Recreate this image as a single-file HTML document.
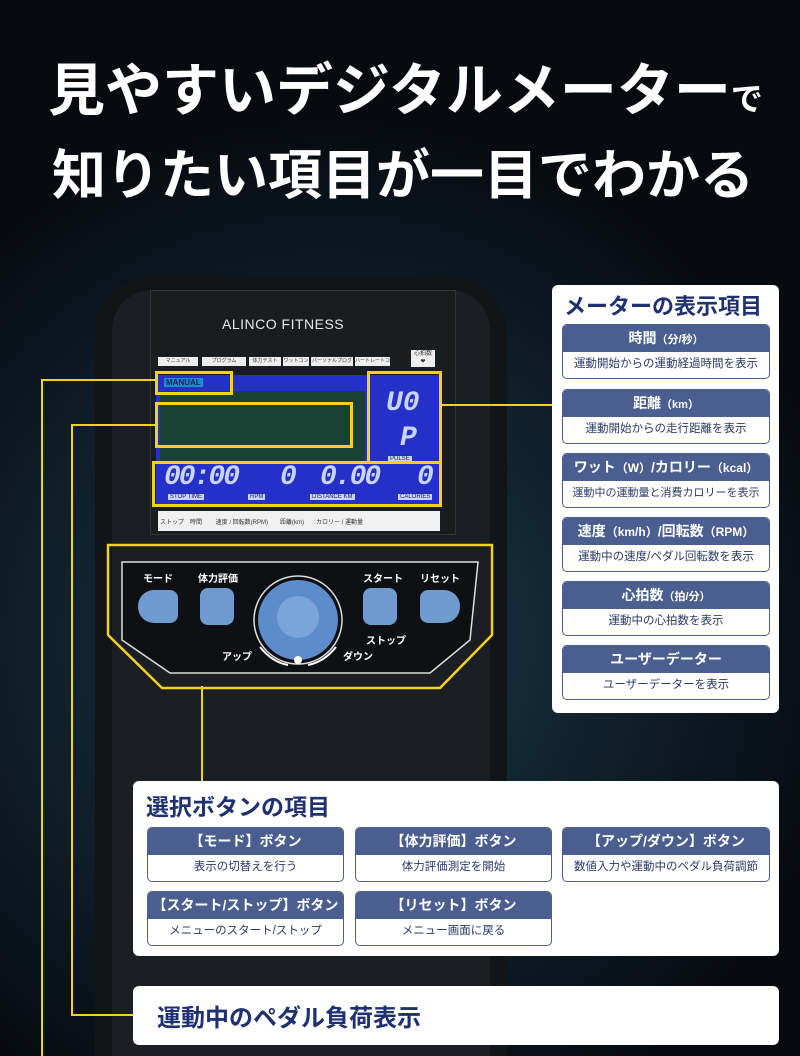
<!DOCTYPE html>
<html><head><meta charset="utf-8"><style>
*{margin:0;padding:0;box-sizing:border-box}
html,body{width:800px;height:1056px;overflow:hidden}
body{position:relative;font-family:"Liberation Sans","Noto Sans CJK JP",sans-serif;
background:radial-gradient(ellipse 520px 520px at 330px 640px,#1d3a4c 0%,#10202c 55%,#070b10 100%);}
.abs{position:absolute}
.t{color:#fff;font-weight:bold;white-space:nowrap}
.panel{position:absolute;background:#fff;border-radius:6px}
.card{position:absolute;border:1px solid #4a5f8f;border-radius:5px;overflow:hidden;background:#fff}
.card .h{background:#4a5f8f;color:#fff;font-weight:bold;text-align:center;height:27px;line-height:27px;font-size:14px}
.card .b{color:#2b3a66;text-align:center;height:26px;line-height:25px;font-size:11.5px}
.y{position:absolute;border:3px solid #f2d21b}
.yl{position:absolute;background:#f2d21b}
.lcd7{position:absolute;color:#c9d4ff;font-family:"Liberation Mono",monospace;font-weight:bold;font-style:italic;line-height:1}
.tab{position:absolute;background:#eee;height:9px;font-size:5px;color:#333;text-align:center;line-height:9px;overflow:hidden}
.lbl{position:absolute;color:#fff;font-size:10px;font-weight:bold}
.btn{position:absolute;background:#6f9bd0;border-radius:8px}
</style></head><body>
<div class="abs t" style="left:48px;top:56px;font-size:57px;line-height:70px">見やすいデジタルメーター<span style="font-size:32px">で</span></div>
<div class="abs t" style="left:52px;top:140px;font-size:54px;line-height:72px;width:700px;display:flex;justify-content:space-between"><span>知</span><span>り</span><span>た</span><span>い</span><span>項</span><span>目</span><span>が</span><span>一</span><span>目</span><span>で</span><span>わ</span><span>か</span><span>る</span></div>

<!-- console body -->
<div class="abs" style="left:95px;top:276px;width:412px;height:780px;background:#121518;border-radius:60px 60px 0 0;"></div>
<div class="abs" style="left:112px;top:290px;width:378px;height:766px;background:#1b1e22;border-radius:40px 40px 0 0;"></div>
<!-- screen panel -->
<div class="abs" style="left:150px;top:290px;width:306px;height:245px;background:#1a1d20;border:1px solid #333"></div>
<div class="abs" style="left:222px;top:316px;color:#e8e8e8;font-size:14px;letter-spacing:0.5px">ALINCO FITNESS</div>
<div class="tab" style="left:158px;top:357px;width:40px">マニュアル</div>
<div class="tab" style="left:202px;top:357px;width:44px">プログラム</div>
<div class="tab" style="left:249px;top:357px;width:32px">体力テスト</div>
<div class="tab" style="left:283px;top:357px;width:26px">ワットコントロール</div>
<div class="tab" style="left:311px;top:357px;width:42px">パーソナルプログラム</div>
<div class="tab" style="left:355px;top:357px;width:35px">ハートレートコントロール</div>
<div class="abs" style="left:411px;top:350px;width:24px;height:17px;background:#eee;font-size:6px;text-align:center;color:#333;line-height:8px">心拍数<br>❤</div>
<!-- LCD -->
<div class="abs" style="left:156px;top:375px;width:285px;height:130px;background:#2430c8"></div>
<div class="abs" style="left:160px;top:391px;width:205px;height:70px;background:#1a4034"></div>
<div class="abs" style="left:164px;top:378px;background:#1a8fd0;color:#0a1a60;font-size:8px;font-weight:bold;padding:0 2px">MANUAL</div>
<div class="lcd7" style="left:386px;top:390px;font-size:28px">U0</div>
<div class="lcd7" style="left:400px;top:425px;font-size:28px">P</div>
<div class="abs" style="left:388px;top:456px;font-size:6px;background:#c9d4ff;color:#223;padding:0 2px">PULSE</div>
<div class="lcd7" style="left:164px;top:464px;font-size:28px;letter-spacing:-2px">00:00</div>
<div class="lcd7" style="left:280px;top:464px;font-size:28px">0</div>
<div class="lcd7" style="left:320px;top:464px;font-size:28px;letter-spacing:-2px">0.00</div>
<div class="lcd7" style="left:417px;top:464px;font-size:28px">0</div>
<div class="abs" style="left:168px;top:494px;font-size:6px;color:#223;background:#c9d4ff;padding:0 2px">STOP TIME</div>
<div class="abs" style="left:248px;top:494px;font-size:6px;color:#223;background:#c9d4ff;padding:0 2px">RPM</div>
<div class="abs" style="left:310px;top:494px;font-size:6px;color:#223;background:#c9d4ff;padding:0 2px">DISTANCE KM</div>
<div class="abs" style="left:398px;top:494px;font-size:6px;color:#223;background:#c9d4ff;padding:0 2px">CALORIES</div>
<div class="abs" style="left:158px;top:511px;width:282px;height:20px;background:#f0f0f0"></div>
<div class="abs" style="left:160px;top:517px;font-size:6px;color:#333;white-space:nowrap">ストップ　時間 　　速度 / 回転数(RPM)　　距離(km)　　カロリー / 運動量</div>

<!-- yellow highlights -->
<div class="y" style="left:155px;top:371px;width:78px;height:24px"></div>
<div class="y" style="left:155px;top:402px;width:198px;height:46px"></div>
<div class="y" style="left:367px;top:371px;width:75px;height:93px;border-bottom:none"></div>
<div class="y" style="left:152px;top:461px;width:290px;height:46px"></div>
<div class="yl" style="left:442px;top:404px;width:110px;height:2px"></div>
<div class="yl" style="left:41px;top:379px;width:114px;height:2px"></div>
<div class="yl" style="left:41px;top:379px;width:2px;height:677px"></div>
<div class="yl" style="left:71px;top:424px;width:84px;height:2px"></div>
<div class="yl" style="left:71px;top:424px;width:2px;height:592px"></div>
<div class="yl" style="left:71px;top:1014px;width:62px;height:2px"></div>
<div class="yl" style="left:201px;top:686px;width:2px;height:96px"></div>

<!-- button panel -->
<svg class="abs" style="left:100px;top:540px" width="400" height="155">
<polygon points="8,5 392,5 392,95 340,148 62,148 8,95" fill="none" stroke="#f2d21b" stroke-width="2.5"/>
<polygon points="22,22 378,22 370,100 330,133 70,133 22,100" fill="#0e1013" stroke="#ddd" stroke-width="1.5"/>
<circle cx="198" cy="80" r="44" fill="#0e1013" stroke="#ddd" stroke-width="1.5"/>
<circle cx="198" cy="80" r="40" fill="#5d8ccb"/>
<circle cx="198" cy="77" r="21" fill="#7aa5d9"/>
<circle cx="198" cy="120" r="4" fill="#fff"/>
<path d="M160 107 Q172 122 188 125" stroke="#fff" stroke-width="2" fill="none"/>
<path d="M208 125 Q224 122 236 107" stroke="#fff" stroke-width="2" fill="none"/>
</svg>
<div class="btn" style="left:138px;top:590px;width:40px;height:33px;border-radius:16px 8px 8px 16px"></div>
<div class="btn" style="left:200px;top:588px;width:34px;height:37px"></div>
<div class="btn" style="left:363px;top:588px;width:34px;height:37px"></div>
<div class="btn" style="left:420px;top:590px;width:40px;height:33px;border-radius:8px 16px 16px 8px"></div>
<div class="lbl" style="left:143px;top:570px">モード</div>
<div class="lbl" style="left:198px;top:570px">体力評価</div>
<div class="lbl" style="left:363px;top:570px">スタート</div>
<div class="lbl" style="left:420px;top:570px">リセット</div>
<div class="lbl" style="left:366px;top:632px">ストップ</div>
<div class="lbl" style="left:222px;top:648px">アップ</div>
<div class="lbl" style="left:343px;top:648px">ダウン</div>

<!-- right panel -->
<div class="panel" style="left:552px;top:285px;width:227px;height:428px"></div>
<div class="abs" style="left:564px;top:289px;color:#1f3170;font-weight:bold;font-size:22px;white-space:nowrap">メーターの表示項目</div>
<div class="card" style="left:562px;top:324px;width:208px;height:55px"><div class="h">時間<span style="font-size:11px">（分/秒）</span></div><div class="b">運動開始からの運動経過時間を表示</div></div>
<div class="card" style="left:562px;top:389px;width:208px;height:55px"><div class="h">距離<span style="font-size:11px">（km）</span></div><div class="b">運動開始からの走行距離を表示</div></div>
<div class="card" style="left:562px;top:453px;width:208px;height:55px"><div class="h">ワット<span style="font-size:12px">（W）</span>/カロリー<span style="font-size:12px">（kcal）</span></div><div class="b" style="font-size:11px">運動中の運動量と消費カロリーを表示</div></div>
<div class="card" style="left:562px;top:517px;width:208px;height:55px"><div class="h">速度<span style="font-size:12px">（km/h）</span>/回転数<span style="font-size:12px">（RPM）</span></div><div class="b">運動中の速度/ペダル回転数を表示</div></div>
<div class="card" style="left:562px;top:581px;width:208px;height:55px"><div class="h">心拍数<span style="font-size:11px">（拍/分）</span></div><div class="b">運動中の心拍数を表示</div></div>
<div class="card" style="left:562px;top:645px;width:208px;height:55px"><div class="h">ユーザーデーター</div><div class="b">ユーザーデーターを表示</div></div>

<!-- bottom panel -->
<div class="panel" style="left:133px;top:781px;width:646px;height:175px"></div>
<div class="abs" style="left:146px;top:788px;color:#1f3170;font-weight:bold;font-size:23px;white-space:nowrap">選択ボタンの項目</div>
<div class="card" style="left:147px;top:827px;width:197px;height:55px"><div class="h">【モード】ボタン</div><div class="b">表示の切替えを行う</div></div>
<div class="card" style="left:355px;top:827px;width:197px;height:55px"><div class="h">【体力評価】ボタン</div><div class="b">体力評価測定を開始</div></div>
<div class="card" style="left:562px;top:827px;width:208px;height:55px"><div class="h">【アップ/ダウン】ボタン</div><div class="b">数値入力や運動中のペダル負荷調節</div></div>
<div class="card" style="left:147px;top:891px;width:197px;height:55px"><div class="h">【スタート/ストップ】ボタン</div><div class="b">メニューのスタート/ストップ</div></div>
<div class="card" style="left:355px;top:891px;width:197px;height:55px"><div class="h">【リセット】ボタン</div><div class="b">メニュー画面に戻る</div></div>

<div class="panel" style="left:133px;top:986px;width:646px;height:59px"></div>
<div class="abs" style="left:157px;top:998px;color:#1f3170;font-weight:bold;font-size:24px;white-space:nowrap">運動中のペダル負荷表示</div>
</body></html>
